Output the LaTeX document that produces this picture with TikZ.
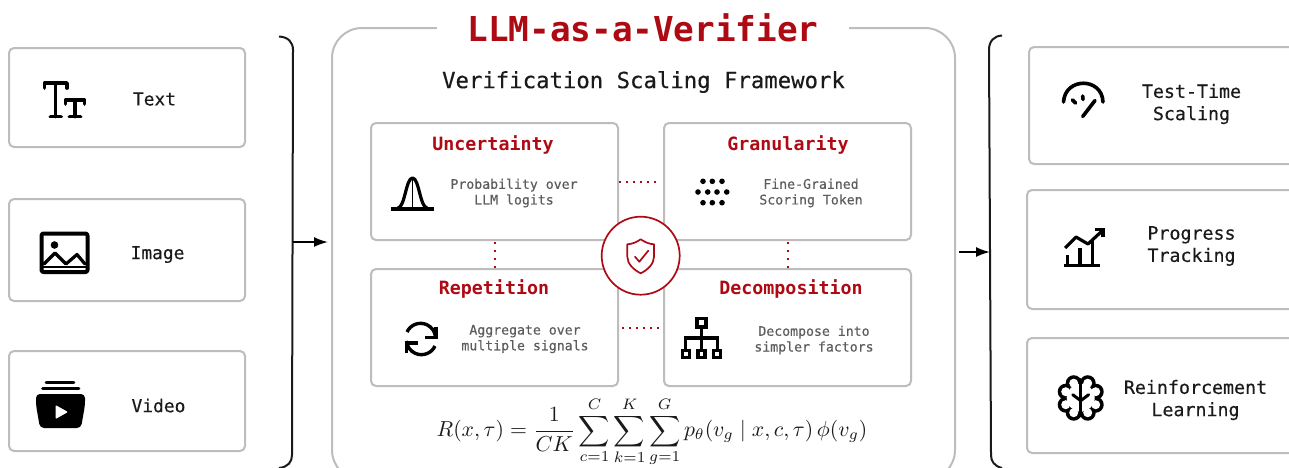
\documentclass[tikz,border=0pt]{standalone}
\usepackage{amsmath}
\usepackage{fontspec}
\setmonofont{DejaVu Sans Mono}
\newfontfamily\medmono[FakeBold=0.35]{DejaVu Sans Mono}
\usetikzlibrary{arrows.meta,calc}
\definecolor{vred}{HTML}{AE0A14}
\definecolor{vgray}{HTML}{BDBDBD}
\definecolor{vtext}{HTML}{1A1A1A}
\definecolor{vdesc}{HTML}{5C5C5C}
\newcommand{\fs}[1]{\fontsize{#1}{#1}\selectfont\ttfamily}
\newcommand{\fm}[1]{\fontsize{#1}{#1}\selectfont\medmono}
\tikzset{
  card/.style={draw=vgray,line width=2pt,rounded corners=5pt,fill=white,inner sep=0pt},
  lbl/.style={text=vtext,align=center,font=\fm{17.9},inner sep=0pt},
  head/.style={text=vred,font=\fs{18.3}\bfseries,inner sep=0pt},
  desc/.style={text=vdesc,align=center,font=\fm{13.2},inner sep=0pt},
  dots/.style={vred,line width=2pt,dash pattern=on 2pt off 5pt},
  vdots/.style={vred,line width=2pt,dash pattern=on 2pt off 6pt,dash phase=-1pt},
  bracket/.style={draw=vtext,line width=2pt},
  flow/.style={draw=black,line width=1.8pt,-{Latex[length=14pt,width=10pt]}},
  icon/.style={draw=black,line width=3.6pt,line cap=round,line join=round},
  redmark/.style={draw=vred,line width=1.7pt,line cap=round,line join=round},
}
\begin{document}
\begin{tikzpicture}[x=1pt,y=-1pt]
\useasboundingbox (0,0) rectangle (1289,467);
% main frame
\node[card,rounded corners=30pt,minimum width=623pt,minimum height=452pt] (main) at (643.5,254) {};
\node[fill=white,inner sep=0pt,minimum width=412pt,minimum height=34pt,text=vred,font=\fs{34.3}\bfseries] (title) at (643,28) {LLM-as-a-Verifier};
\node[text=vtext,font=\fm{22.3},inner sep=0pt] (framework) at (643.5,82) {Verification Scaling Framework};
% input cards
\node[card,minimum width=236pt,minimum height=99pt] (text) at (127,97.5) {};
\node[card,minimum width=236pt,minimum height=102pt] (image) at (127,250) {};
\node[card,minimum width=236pt,minimum height=100pt] (video) at (127,401) {};
\node[lbl] (ltext) at (154.5,99) {Text};
\node[lbl] (limage) at (157.5,254.5) {Image};
\node[lbl] (lvideo) at (158.5,405.5) {Video};
% output cards
\node[card,minimum width=280pt,minimum height=117pt] (test) at (1169,105.5) {};
\node[card,minimum width=280pt,minimum height=119pt] (progress) at (1167,249.5) {};
\node[card,minimum width=280pt,minimum height=115pt] (rl) at (1167,395.5) {};
\node[lbl,font=\fm{18.3}] (ltest) at (1191.5,104) {Test-Time\\[4pt]Scaling};
\node[lbl,font=\fm{18.3}] (lprogress) at (1191.5,246) {Progress\\[4pt]Tracking};
\node[lbl,font=\fm{18.3}] (lrl) at (1195.5,400) {Reinforcement\\[4pt]Learning};
% inner cards
\node[card,minimum width=247pt,minimum height=117pt] (unc) at (494.5,181.5) {};
\node[card,minimum width=247pt,minimum height=117pt] (gra) at (787.5,181.5) {};
\node[card,minimum width=247pt,minimum height=117pt] (rep) at (494.5,327.5) {};
\node[card,minimum width=247pt,minimum height=117pt] (dec) at (787.5,327.5) {};
\node[head] (hunc) at (493,145) {Uncertainty};
\node[head] (hgra) at (788,145) {Granularity};
\node[head] (hrep) at (494,289) {Repetition};
\node[head] (hdec) at (791,289) {Decomposition};
\node[desc] (dunc) at (514,193) {Probability over\\[2.5pt]LLM logits};
\node[desc] (dgra) at (811,193) {Fine-Grained\\[2.5pt]Scoring Token};
\node[desc] (drep) at (525,339) {Aggregate over\\[2.5pt]multiple signals};
\node[desc] (ddec) at (814,340) {Decompose into\\[2.5pt]simpler factors};
% dotted connectors
\coordinate (h1) at (660,181.5);
\coordinate (h2) at (622,327.5);
\draw[dots] (unc.east) -- (h1);
\draw[dots] (h2) -- (dec.west);
\draw[vdots] (unc.south) -- (rep.north);
\draw[vdots] (gra.south) -- (dec.north);
% centre badge
\node[circle,draw=vred,line width=1.7pt,fill=white,minimum size=78pt,inner sep=0pt] (badge) at (640.7,255.7) {};
\draw[redmark] (640.7,239.3) .. controls (636,242.5) and (632,244) .. (627.3,244.3) -- (627.3,256.7) .. controls (627.3,264) and (634,270) .. (640.7,273.3) .. controls (647.4,270) and (654,264) .. (654,256.7) -- (654,244.3) .. controls (649.4,244) and (645.4,242.5) .. (640.7,239.3) -- cycle;
\draw[redmark] (635,256.7) -- (639.3,261.7) -- (648.3,250.7);
% brackets and arrows
\coordinate (brl) at (292.5,242);
\coordinate (brr) at (990,252);
\draw[bracket] (279,36.5) .. controls (288,37) and (293,42) .. (293,50) -- (292,455) .. controls (292,462) and (288,467) .. (279,468);
\draw[bracket] (1002,35.5) .. controls (994,36) and (989,41) .. (989,50) -- (991,455) .. controls (991,461) and (994,466) .. (1002,468);
\draw[flow,shorten >=3pt] (brl) -- (main.west |- brl);
\draw[flow,shorten <=3pt] (main.east |- brr) -- (brr);
% Tt icon
\begin{scope}[icon,line width=3.8pt]
\draw (44.5,88) -- (44.5,83) -- (67,83) -- (67,88);
\draw (55.5,83) -- (55.5,116.5);
\draw (50.5,116.5) -- (61,116.5);
\draw (65.5,104) -- (65.5,100) -- (84.5,100) -- (84.5,104);
\draw (75,100) -- (75,116.5);
\draw (69.5,116.5) -- (80.5,116.5);
\end{scope}
% image icon
\draw[icon,rounded corners=2pt,line width=4pt] (41.5,233.5) rectangle (87.5,272);
\fill (54.5,245) circle (3.8pt);
\draw[icon,line width=3.2pt] (44,264) -- (55,253) -- (66,264) -- (77,254.5) -- (85,264);
\draw[line width=1.4pt] (43,267) -- (86,267);
% video icon
\draw[icon,line width=2.8pt] (46,382.5) -- (74,382.5);
\draw[icon,line width=2.8pt] (42.5,388.5) -- (79,388.5);
\fill[rounded corners=4pt] (36,394) -- (85,394) -- (85,405) -- (81,428) -- (40,428) -- (36,405) -- cycle;
\fill[white,rounded corners=1pt] (55.5,405) -- (68,412) -- (55.5,419) -- cycle;
% bell curve
\draw[icon,line cap=butt,line width=3.2pt] (391,209) -- (434,209);
\draw[icon,line width=3.2pt] (398,208) .. controls (405,207) and (406,178) .. (412.5,178) .. controls (419,178) and (420,207) .. (427,208);
\draw[line width=1.2pt] (412.5,178) -- (412.5,209);
% sync icon
\draw[icon,line cap=butt,line width=3.4pt] (407,332) arc[start angle=205,end angle=355,radius=15] ;
\draw[icon,line cap=butt,line width=3.4pt] (435,346) arc[start angle=25,end angle=175,radius=15];
\draw[icon,line cap=butt,line join=miter,line width=3.4pt] (436,326.5) -- (436,337.5) -- (425,337.5);
\draw[icon,line cap=butt,line join=miter,line width=3.4pt] (406.5,353) -- (406.5,343) -- (418,343);
% dots icon
\foreach \x in {703,712.3,722}{\fill (\x,181.3) circle (2.8pt); \fill (\x,202.7) circle (2.8pt);}
\foreach \x in {698,707.7,717,726.7}{\fill (\x,192) circle (2.8pt);}
% hierarchy icon
\begin{scope}[icon,line width=3.4pt,line join=miter,line cap=butt]
\draw (697,318.5) rectangle (706,327);
\draw (701.4,327) -- (701.4,350);
\draw (685.7,350) -- (685.7,338) -- (717.3,338) -- (717.3,350);
\draw (682.5,350.5) rectangle (689.5,357.5);
\draw (698,350.5) rectangle (705,357.5);
\draw (713.5,350.5) rectangle (720.5,357.5);
\end{scope}
% gauge icon
\begin{scope}[icon]
\draw (1063.5,102) .. controls (1065,77) and (1102,77) .. (1103,102);
\draw (1082.7,96) -- (1083,99.5);
\draw (1072.5,100) -- (1075.5,103);
\draw (1095,100.5) -- (1082.7,116.5);
\end{scope}
% chart icon
\begin{scope}[icon,line cap=butt,line width=3.2pt]
\draw (1064,265.7) -- (1100,265.7);
\draw (1067.3,255) -- (1067.3,265);
\draw (1080,248) -- (1080,265);
\draw (1092.7,241) -- (1092.7,265);
\draw (1065,248) -- (1076,237) -- (1088,244) -- (1102,231);
\draw[line join=miter] (1095,229.5) -- (1103,229.5) -- (1103,237);
\end{scope}
% brain icon
\begin{scope}[shift={(1080.7,397.7)}]
\foreach \p in {(-7,-14.5),(7,-14.5),(-15,-6),(15,-6),(-15,7),(15,7),(-7,15),(7,15)}{\fill[black] \p circle (8pt);}
\foreach \p in {(-7,-14.5),(7,-14.5),(-15,-6),(15,-6),(-15,7),(15,7),(-7,15),(7,15)}{\fill[white] \p circle (4.5pt);}
\fill[white] (0,0) circle (14pt);
\draw[icon,line width=3.4pt] (0,-18) -- (0,18);
\draw[icon,line width=3pt] (-8,-3) -- (0,3) -- (8,-3);
\end{scope}
% formula
\node[scale=2.17,inner sep=0pt,text=vtext] (formula) at (652,432) {$\displaystyle R(x,\tau)=\frac{1}{CK}\sum_{c=1}^{C}\sum_{k=1}^{K}\sum_{g=1}^{G}p_\theta(v_g\mid x,c,\tau)\,\phi(v_g)$};
\end{tikzpicture}
\end{document}
